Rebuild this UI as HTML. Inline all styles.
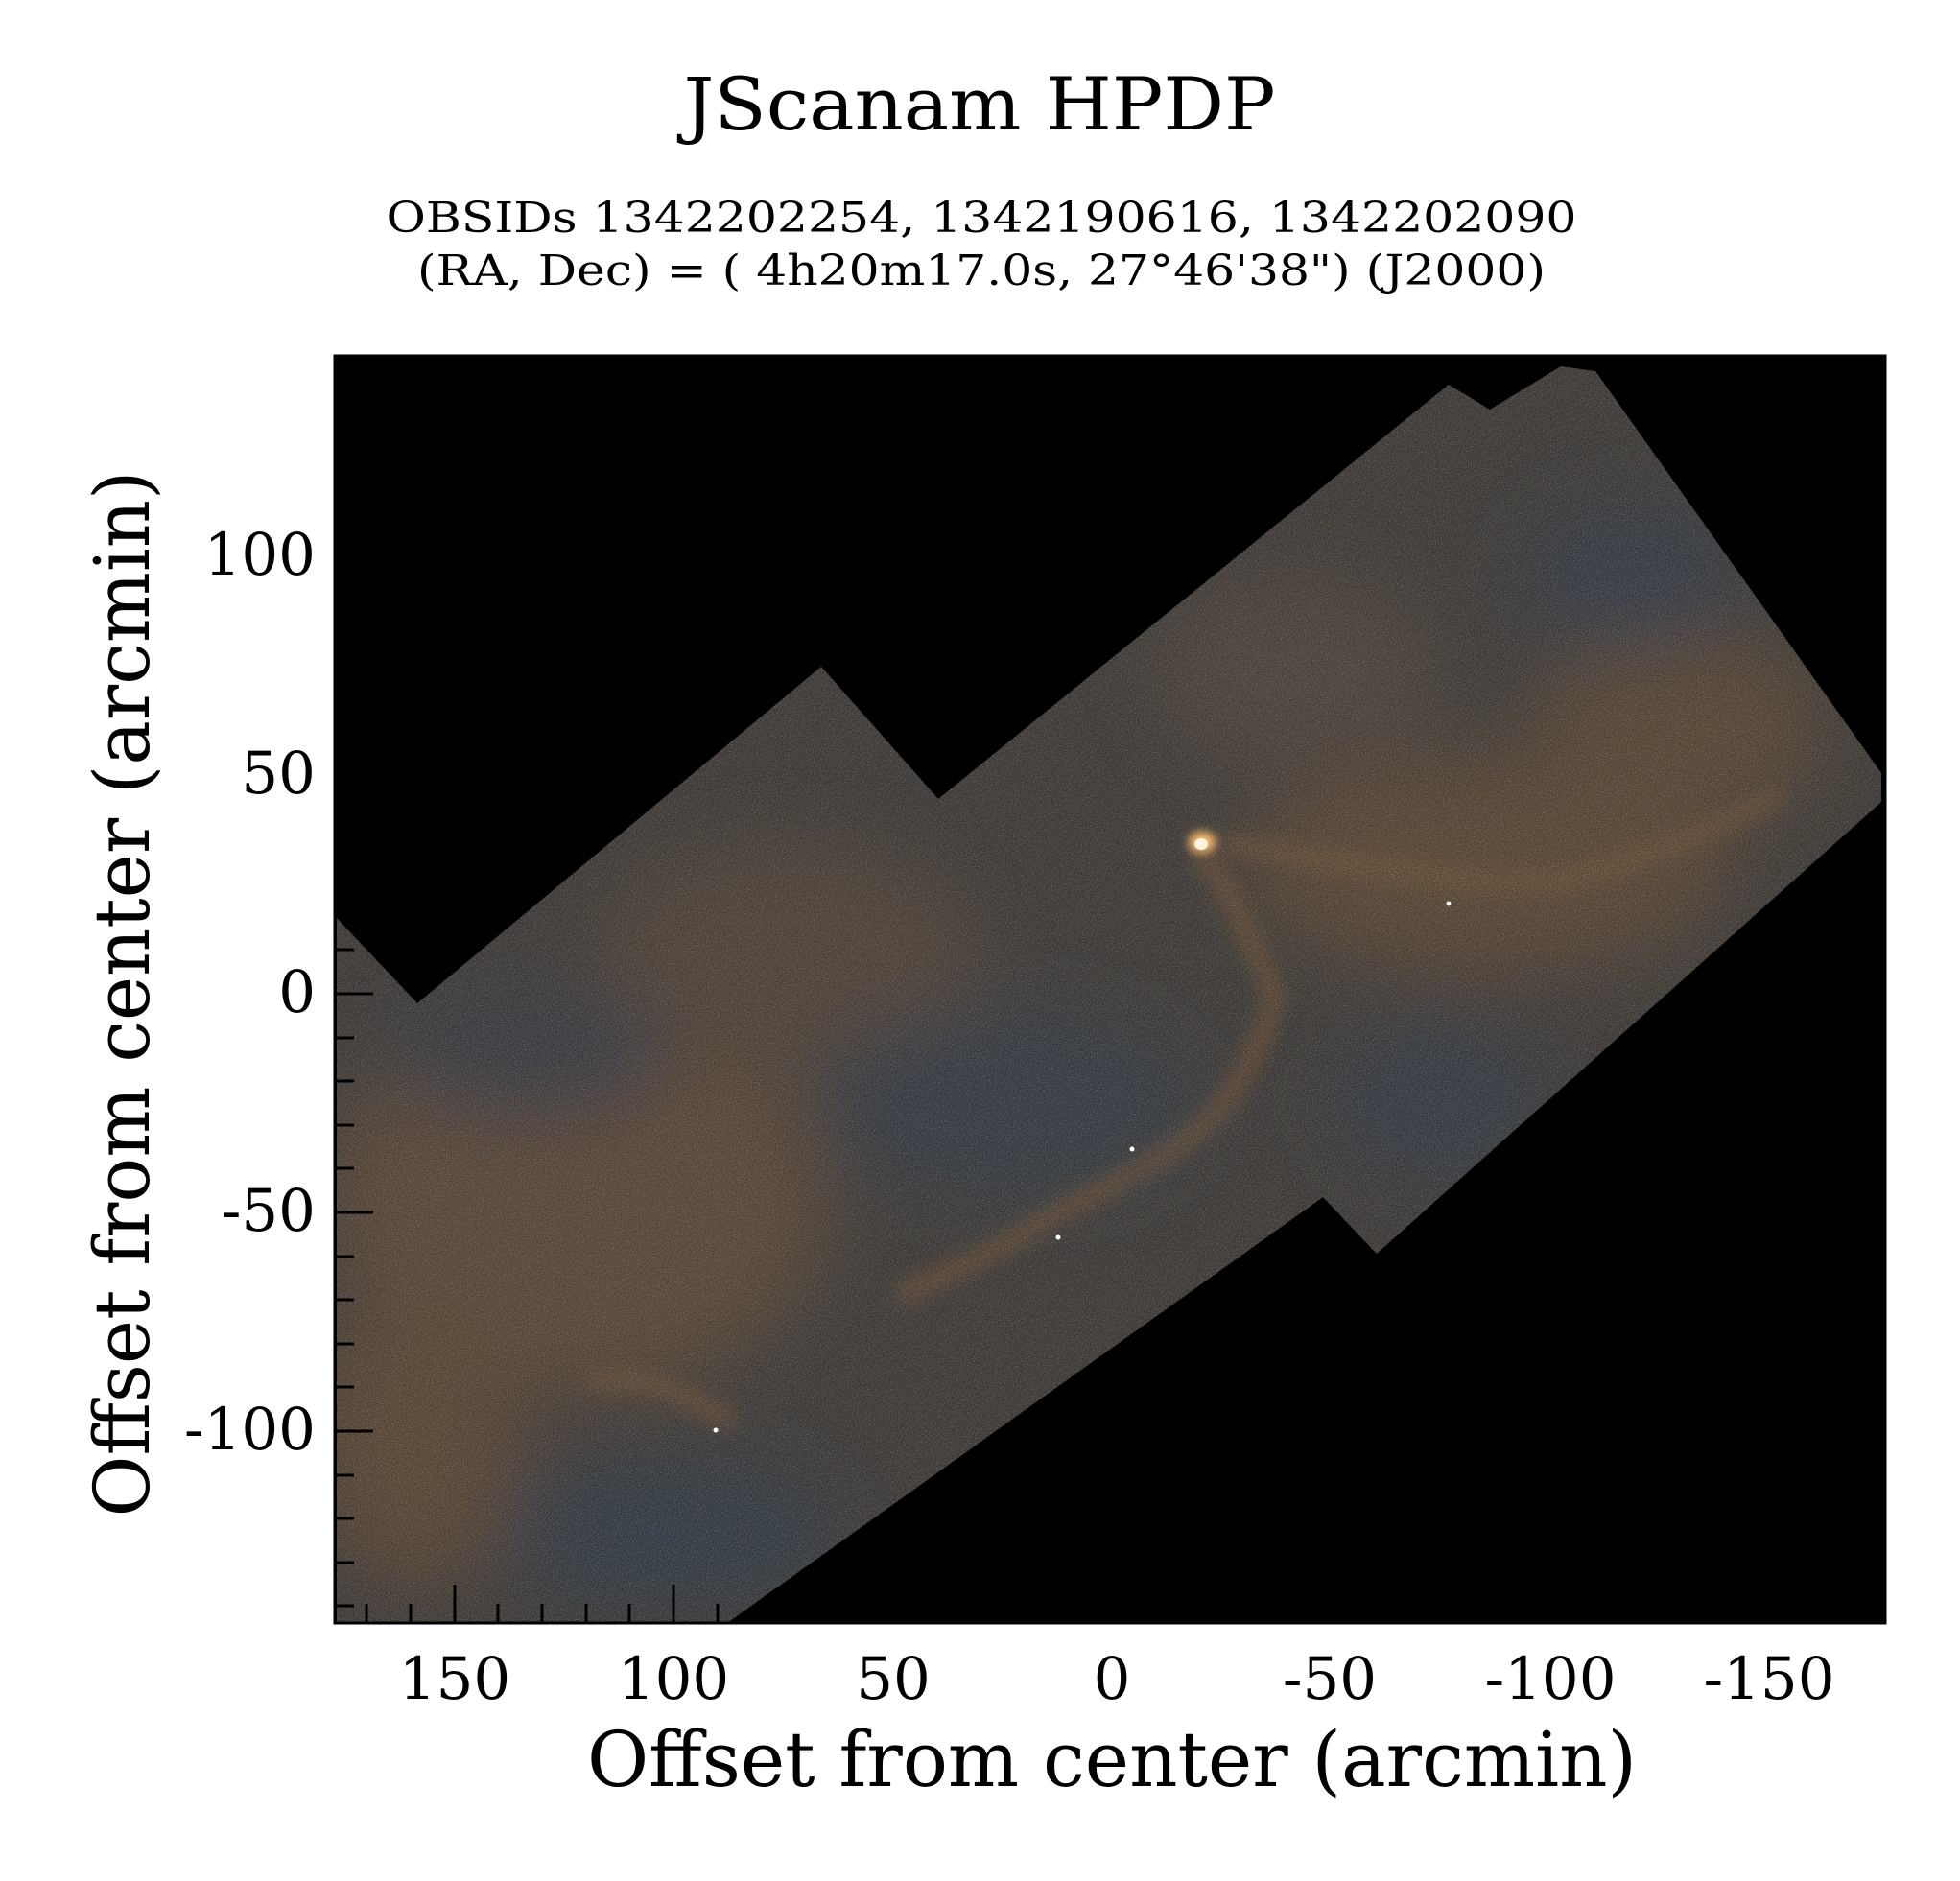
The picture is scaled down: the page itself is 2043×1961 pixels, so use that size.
<!DOCTYPE html>
<html><head><meta charset="utf-8"><style>
html,body{margin:0;padding:0;background:#fff;}
svg{display:block;}
text{font-family:"DejaVu Serif","Liberation Serif",serif;fill:#000;}
</style></head><body>
<svg width="2043" height="1961" viewBox="0 0 2043 1961" xmlns="http://www.w3.org/2000/svg">
<defs>
<clipPath id="cov"><polygon points="351,957 435,1046 856,695 978,833 1510,401 1553,427 1627,382 1663,387 1961,806 1961,836 1435,1307 1379,1248 758,1692 351,1692"/></clipPath>
<filter id="b40" x="-50%" y="-50%" width="200%" height="200%"><feGaussianBlur stdDeviation="40"/></filter>
<filter id="b15" x="-50%" y="-50%" width="200%" height="200%"><feGaussianBlur stdDeviation="10"/></filter>
<filter id="b5" x="-50%" y="-50%" width="200%" height="200%"><feGaussianBlur stdDeviation="5"/></filter>
<filter id="noise" x="0" y="0" width="100%" height="100%">
<feTurbulence type="fractalNoise" baseFrequency="0.85" numOctaves="2" seed="3"/>
<feColorMatrix type="matrix" values="0 0 0 0 0.18  0 0 0 0 0.26  0 0 0 0 0.38  1.6 0 0 0 -0.55"/>
</filter>
<filter id="noise2" x="0" y="0" width="100%" height="100%">
<feTurbulence type="fractalNoise" baseFrequency="0.7" numOctaves="2" seed="11"/>
<feColorMatrix type="matrix" values="0 0 0 0 0.05  0 0 0 0 0.04  0 0 0 0 0.03  1.6 0 0 0 -0.5"/>
</filter>
</defs>
<rect x="0" y="0" width="2043" height="1961" fill="#fff"/>
<rect x="349" y="371" width="1616" height="1321" fill="#000"/>
<g clip-path="url(#cov)">
<rect x="349" y="371" width="1616" height="1321" fill="#3b3026"/>
<g filter="url(#b40)">
<ellipse cx="600" cy="1250" rx="260" ry="200" fill="#6a4626"/>
<ellipse cx="430" cy="1500" rx="110" ry="150" fill="#6a4424"/>
<ellipse cx="820" cy="1000" rx="200" ry="120" fill="#573e28"/>
<ellipse cx="1550" cy="900" rx="250" ry="110" fill="#6a4524"/>
<ellipse cx="1750" cy="760" rx="150" ry="100" fill="#664424"/>
<ellipse cx="1350" cy="700" rx="150" ry="100" fill="#523d2a"/>
<ellipse cx="700" cy="1600" rx="180" ry="80" fill="#26303e"/>
<ellipse cx="1050" cy="1150" rx="200" ry="100" fill="#2b303a"/>
<ellipse cx="1700" cy="600" rx="120" ry="80" fill="#2a303c"/>
<ellipse cx="1500" cy="1150" rx="120" ry="80" fill="#2c313c"/>
<ellipse cx="550" cy="1100" rx="150" ry="70" fill="#303238"/>
</g>
<g filter="url(#b15)" fill="none" stroke="#8a5626" stroke-width="14" stroke-linecap="round">
<path d="M1330,1040 C1300,1120 1280,1160 1220,1200 C1160,1240 1120,1250 1060,1290 C1010,1320 980,1330 940,1350"/>
<path d="M1250,890 C1290,930 1300,980 1330,1040"/>
<path d="M1280,880 C1400,900 1500,920 1620,920 C1700,900 1780,870 1850,830"/>
<path d="M620,1440 C680,1430 720,1460 760,1480"/>
</g>
<rect x="349" y="371" width="1616" height="1321" filter="url(#noise)"/>
<rect x="349" y="371" width="1616" height="1321" filter="url(#noise2)"/>
<g filter="url(#b5)">
<ellipse cx="1253" cy="878" rx="14" ry="11" fill="#ffc070"/>
</g>
<ellipse cx="1252" cy="880" rx="7" ry="6" fill="#fff4e0"/>
<circle cx="1180" cy="1198" r="2.5" fill="#fff"/>
<circle cx="1103" cy="1290" r="2.5" fill="#fff"/>
<circle cx="746" cy="1491" r="2.5" fill="#fff"/>
<circle cx="1510" cy="942" r="2.5" fill="#fff"/>
</g>
<rect x="349" y="371" width="1616" height="1321" fill="none" stroke="#000" stroke-width="3"/>
<g stroke="#000" stroke-width="3">
<line x1="1616" y1="1692" x2="1616" y2="1652"/><line x1="1388" y1="1692" x2="1388" y2="1652"/>
<line x1="1159" y1="1692" x2="1159" y2="1652"/><line x1="931" y1="1692" x2="931" y2="1652"/>
<line x1="702" y1="1692" x2="702" y2="1652"/><line x1="474" y1="1692" x2="474" y2="1652"/>
<line x1="382" y1="1692" x2="382" y2="1672"/><line x1="428" y1="1692" x2="428" y2="1672"/>
<line x1="519" y1="1692" x2="519" y2="1672"/><line x1="565" y1="1692" x2="565" y2="1672"/>
<line x1="611" y1="1692" x2="611" y2="1672"/><line x1="656" y1="1692" x2="656" y2="1672"/>
<line x1="748" y1="1692" x2="748" y2="1672"/>
<line x1="349" y1="580" x2="389" y2="580"/><line x1="349" y1="808" x2="389" y2="808"/>
<line x1="349" y1="1036" x2="389" y2="1036"/><line x1="349" y1="1264" x2="389" y2="1264"/>
<line x1="349" y1="1492" x2="389" y2="1492"/>
<line x1="349" y1="1082" x2="369" y2="1082"/><line x1="349" y1="1127" x2="369" y2="1127"/>
<line x1="349" y1="1173" x2="369" y2="1173"/><line x1="349" y1="1218" x2="369" y2="1218"/>
<line x1="349" y1="1310" x2="369" y2="1310"/><line x1="349" y1="1355" x2="369" y2="1355"/>
<line x1="349" y1="1401" x2="369" y2="1401"/><line x1="349" y1="1446" x2="369" y2="1446"/>
<line x1="349" y1="1538" x2="369" y2="1538"/><line x1="349" y1="1583" x2="369" y2="1583"/>
<line x1="349" y1="1629" x2="369" y2="1629"/><line x1="349" y1="1674" x2="369" y2="1674"/>
<line x1="349" y1="990" x2="369" y2="990"/>
</g>
<text x="1021" y="135" font-size="76" text-anchor="middle" textLength="617" lengthAdjust="spacingAndGlyphs">JScanam HPDP</text>
<text x="1023" y="242" font-size="44" text-anchor="middle" textLength="1241" lengthAdjust="spacingAndGlyphs">OBSIDs 1342202254, 1342190616, 1342202090</text>
<text x="1023" y="297" font-size="44" text-anchor="middle" textLength="1176" lengthAdjust="spacingAndGlyphs">(RA, Dec) = ( 4h20m17.0s, 27°46'38") (J2000)</text>
<g font-size="61" text-anchor="middle">
<text x="474" y="1771">150</text><text x="702" y="1771">100</text><text x="931" y="1771">50</text>
<text x="1159" y="1771">0</text><text x="1386" y="1771">-50</text><text x="1616" y="1771">-100</text><text x="1844" y="1771">-150</text>
</g>
<g font-size="61" text-anchor="end">
<text x="329" y="599">100</text><text x="329" y="827">50</text><text x="329" y="1055">0</text>
<text x="329" y="1283">-50</text><text x="329" y="1511">-100</text>
</g>
<text x="1159" y="1862" font-size="80" text-anchor="middle" textLength="1094" lengthAdjust="spacingAndGlyphs">Offset from center (arcmin)</text>
<text transform="translate(155,1036) rotate(-90)" x="0" y="0" font-size="80" text-anchor="middle" textLength="1091" lengthAdjust="spacingAndGlyphs">Offset from center (arcmin)</text>
</svg>
</body></html>
